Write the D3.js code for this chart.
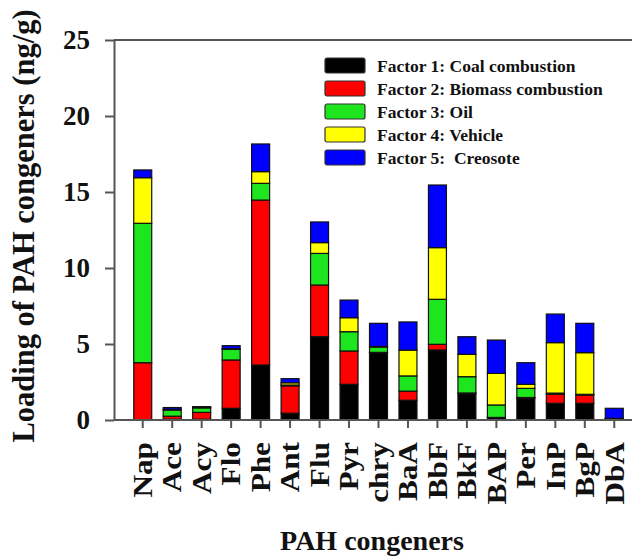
<!DOCTYPE html>
<html>
<head>
<meta charset="utf-8">
<script src="https://cdn.jsdelivr.net/npm/d3@7"></script>
<style>
  body { margin: 0; background: #fff; }
  text { font-family: "Liberation Serif", "Times New Roman", serif; font-weight: bold; }
</style>
</head>
<body>
<div id="chart"></div>
<script>
// PAH congeners on the x axis
var congeners = ["Nap", "Ace", "Acy", "Flo", "Phe", "Ant", "Flu", "Pyr", "chry",
                 "BaA", "BbF", "BkF", "BAP", "Per", "InP", "BgP", "DbA"];

// factor loadings (ng/g), one value per congener
var coal     = [0, 0.05, 0.05, 0.77, 3.62, 0.45, 5.48, 2.35, 4.43, 1.30, 4.61, 1.73, 0.15, 1.43, 1.10, 1.10, 0.05];
var biomass  = [3.77, 0.20, 0.45, 3.18, 10.85, 1.80, 3.40, 2.19, 0.02, 0.60, 0.37, 0.05, 0.02, 0.05, 0.59, 0.54, 0.02];
var oil      = [9.17, 0.40, 0.30, 0.70, 1.10, 0.05, 2.08, 1.27, 0.35, 1.00, 2.96, 1.07, 0.82, 0.60, 0.08, 0.05, 0.02];
var vehicle  = [3.00, 0.05, 0.02, 0.04, 0.77, 0.15, 0.71, 0.92, 0.04, 1.70, 3.40, 1.47, 2.08, 0.27, 3.32, 2.74, 0.02];
var creosote = [0.51, 0.12, 0.06, 0.20, 1.82, 0.27, 1.36, 1.16, 1.52, 1.85, 4.12, 1.16, 2.19, 1.42, 1.88, 1.93, 0.66];

var factorNames = ["Factor 1: Coal combustion", "Factor 2: Biomass combustion",
                   "Factor 3: Oil", "Factor 4: Vehicle", "Factor 5:  Creosote"];
var factorColors = ["#000000", "#ff0000", "#1ee61e", "#ffff00", "#0000ff"];
var yTicks = [0, 5, 10, 15, 20, 25];

var W = 635, H = 557;
var plotLeft = 114, plotRight = 632, plotTop = 40, plotBottom = 420;

var svg = d3.select("#chart")
  .append("svg")
  .attr("width", W)
  .attr("height", H);

var keys = ["coal", "biomass", "oil", "vehicle", "creosote"];
var table = congeners.map(function(c, i) {
  return {name: c, coal: coal[i], biomass: biomass[i], oil: oil[i],
          vehicle: vehicle[i], creosote: creosote[i]};
});
var series = d3.stack().keys(keys)(table);

var x = d3.scaleBand()
  .domain(congeners)
  .range([128, 629])
  .paddingInner(0.39)
  .paddingOuter(0.195);

var y = d3.scaleLinear()
  .domain([0, 25])
  .range([plotBottom, plotTop]);

// bars
svg.append("g")
  .selectAll("g")
  .data(series)
  .enter()
  .append("g")
    .attr("fill", function(d, i) { return factorColors[i]; })
  .selectAll("rect")
  .data(function(d) { return d; })
  .enter()
  .append("rect")
    .attr("x", function(d) { return x(d.data.name); })
    .attr("y", function(d) { return y(d[1]); })
    .attr("width", x.bandwidth())
    .attr("height", function(d) { return y(d[0]) - y(d[1]); })
    .attr("stroke", "#111")
    .attr("stroke-width", 1.2);

// frame: top line
svg.append("line")
  .attr("x1", plotLeft).attr("x2", plotRight)
  .attr("y1", plotTop).attr("y2", plotTop)
  .attr("stroke", "#555").attr("stroke-width", 2);

// y axis
var yAxis = svg.append("g")
  .attr("transform", "translate(" + plotLeft + ",0)")
  .call(d3.axisLeft(y).tickValues(yTicks).tickSize(9).tickPadding(15).tickSizeOuter(0));
yAxis.select(".domain").attr("stroke", "#555").attr("stroke-width", 2);
yAxis.selectAll(".tick line").attr("stroke", "#555").attr("stroke-width", 2);
yAxis.selectAll(".tick text")
  .style("font-family", "'Liberation Serif', serif")
  .style("font-weight", "bold")
  .style("font-size", "27px")
  .attr("fill", "#111");

// x axis
var xAxis = svg.append("g")
  .attr("transform", "translate(0," + plotBottom + ")")
  .call(d3.axisBottom(x).tickSize(8).tickSizeOuter(0));
xAxis.select(".domain")
  .attr("d", "M" + plotLeft + ",0H" + plotRight)
  .attr("stroke", "#555").attr("stroke-width", 2);
xAxis.selectAll(".tick line").attr("stroke", "#555").attr("stroke-width", 2);
xAxis.selectAll(".tick text")
  .style("font-family", "'Liberation Serif', serif")
  .style("font-weight", "bold")
  .style("font-size", "26.5px")
  .attr("fill", "#111")
  .attr("text-anchor", "end")
  .attr("dy", "0.35em")
  .attr("transform", "translate(0,22) rotate(-90) scale(1.18,1)")
  .attr("y", 0)
  .attr("x", 0);

// axis titles
svg.append("text")
  .attr("transform", "translate(34,226) rotate(-90)")
  .attr("text-anchor", "middle")
  .style("font-size", "30.5px")
  .attr("fill", "#111")
  .text("Loading of PAH congeners (ng/g)");

svg.append("text")
  .attr("x", 372)
  .attr("y", 550)
  .attr("text-anchor", "middle")
  .style("font-size", "28px")
  .attr("fill", "#111")
  .text("PAH congeners");

// legend
var legend = svg.append("g")
  .attr("transform", "translate(325,58)");
var rows = legend.selectAll("g")
  .data(factorNames)
  .enter()
  .append("g")
    .attr("transform", function(d, i) { return "translate(0," + (i * 23) + ")"; });
rows.append("rect")
  .attr("width", 40)
  .attr("height", 15)
  .attr("rx", 2)
  .attr("fill", function(d, i) { return factorColors[i]; })
  .attr("stroke", "#333")
  .attr("stroke-width", 1.2);
rows.append("text")
  .attr("x", 52)
  .attr("y", 14)
  .style("font-size", "17.5px")
  .style("white-space", "pre")
  .attr("fill", "#111")
  .text(function(d) { return d; });
</script>
</body>
</html>
